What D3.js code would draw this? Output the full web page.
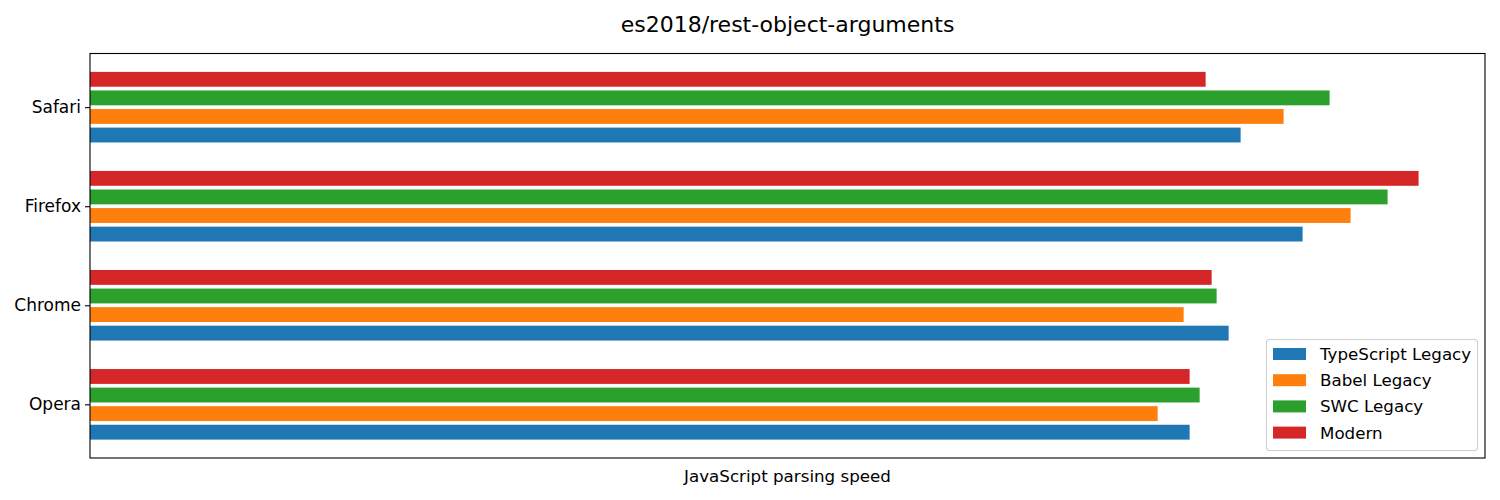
<!DOCTYPE html>
<html><head><meta charset="utf-8">
<script src="https://cdn.jsdelivr.net/npm/d3@7"></script>
<style>body{margin:0;background:#fff;} svg{display:block;font-family:"DejaVu Sans",sans-serif;}</style>
</head><body><svg id="c" width="1500" height="500"></svg>
<script>
const categories = ["Safari", "Firefox", "Chrome", "Opera"];
const seriesNames = ["TypeScript Legacy", "Babel Legacy", "SWC Legacy", "Modern"];
const colors = ["#1f77b4", "#ff7f0e", "#2ca02c", "#d62728"];
const typescriptLegacy = [1151, 1213, 1139, 1100];
const babelLegacy = [1194, 1261, 1094, 1068];
const swcLegacy = [1240, 1298, 1127, 1110];
const modern = [1116, 1329, 1122, 1100];
const seriesValues = [typescriptLegacy, babelLegacy, swcLegacy, modern];
const title = "es2018/rest-object-arguments";
const xLabel = "JavaScript parsing speed";

const svg = d3.select("#c");
const L = 90, R = 1485, T = 53.5, B = 458;
const maxV = d3.max(seriesValues.flat());
const x = d3.scaleLinear().domain([0, maxV * 1.05]).range([L, R]);
const step = 0.1875, bh = 0.15;
const ext = 1.5 * step + bh / 2;
const pad = (categories.length - 1 + 2 * ext) * 0.05;
const y = d3.scaleLinear().domain([-ext - pad, categories.length - 1 + ext + pad]).range([T, B]);

// bars
seriesValues.forEach((vals, si) => {
  const off = (1.5 - si) * step; // TS bottom, Modern top
  svg.append("g").selectAll("rect").data(vals).join("rect")
    .attr("x", x(0))
    .attr("y", (d, i) => y(i + off - bh / 2))
    .attr("width", d => x(d) - x(0))
    .attr("height", (d, i) => y(i + off + bh / 2) - y(i + off - bh / 2))
    .attr("fill", colors[si]);
});

// frame
svg.append("rect").attr("x", L).attr("y", T).attr("width", R - L).attr("height", B - T)
  .attr("fill", "none").attr("stroke", "#000").attr("stroke-width", 1.1);

// y axis
const yAxis = d3.axisLeft(y).tickValues(d3.range(categories.length))
  .tickFormat(i => categories[i]).tickSize(5).tickPadding(4);
const gy = svg.append("g").attr("transform", `translate(${L},0)`).call(yAxis);
gy.select(".domain").remove();
gy.selectAll("line").attr("stroke", "#000").attr("stroke-width", 1.1);
gy.selectAll("text").attr("font-size", 17).attr("fill", "#000")
  .attr("font-family", "DejaVu Sans");

// title
svg.append("text").attr("x", (L + R) / 2).attr("y", 32).attr("text-anchor", "middle")
  .attr("font-size", 22).attr("fill", "#000").text(title);
// x label
svg.append("text").attr("x", (L + R) / 2).attr("y", 482).attr("text-anchor", "middle")
  .attr("font-size", 16.7).attr("fill", "#000").text(xLabel);

// legend
const lg = svg.append("g");
lg.append("rect").attr("x", 1266.5).attr("y", 339.5).attr("width", 211).attr("height", 111)
  .attr("rx", 3).attr("fill", "#fff").attr("fill-opacity", 0.8)
  .attr("stroke", "#d0d0d0").attr("stroke-width", 1.1);
seriesNames.forEach((n, i) => {
  const cy = 354 + i * 26.2;
  lg.append("rect").attr("x", 1273).attr("y", cy - 6).attr("width", 33).attr("height", 12)
    .attr("fill", colors[i]);
  lg.append("text").attr("x", 1320).attr("y", cy + 6).attr("font-size", 16.7)
    .attr("fill", "#000").text(n);
});
</script></body></html>
